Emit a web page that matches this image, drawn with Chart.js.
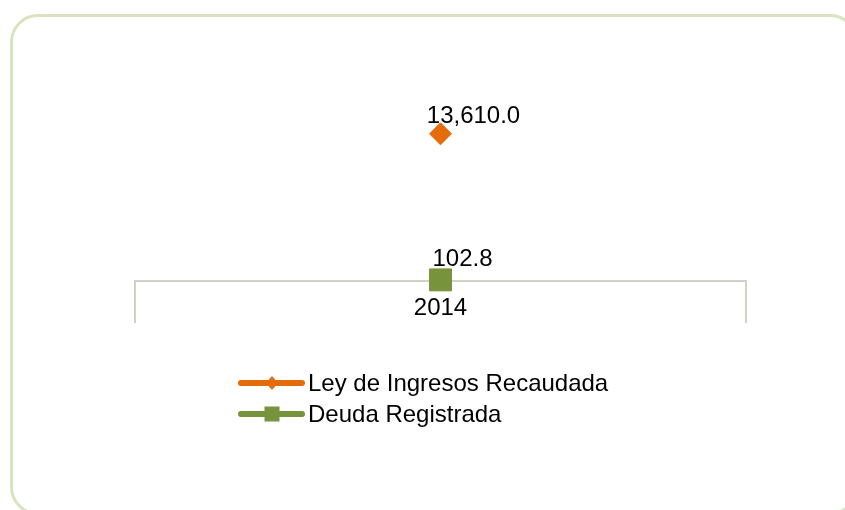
<!DOCTYPE html>
<html>
<head>
<meta charset="utf-8">
<script src="https://cdn.jsdelivr.net/npm/chart.js@4/dist/chart.umd.min.js"></script>
<style>
  html, body { margin: 0; padding: 0; background: #fff; overflow: hidden; }
  #wrap { position: relative; width: 845px; height: 510px; overflow: hidden; }
  #frame {
    position: absolute; left: 10px; top: 14px; width: 842px; height: 495px;
    border: 3px solid #d7e4bd; border-radius: 28px;
  }
  canvas { position: absolute; left: 0; top: 0; }
</style>
</head>
<body>
<div id="wrap">
  <div id="frame"></div>
  <canvas id="chart" width="845" height="510"></canvas>
</div>
<script>
// Data
const categories = ['2014'];
const seriesNames = ['Ley de Ingresos Recaudada', 'Deuda Registrada'];
const recaudada = [13610.0];
const deuda = [102.8];
const seriesColors = ['#e46c0a', '#77933c'];

const FONT = '"Liberation Sans", Arial, sans-serif';
const FONT_SIZE = 24;

function fmt(n) {
  return n.toLocaleString('en-US', { minimumFractionDigits: 1, maximumFractionDigits: 1 });
}

// Value labels next to each point (offsets from the point, in px)
const labelOffsets = [{ dx: 33, dy: -17 }, { dx: 22, dy: -21 }];

const valueLabels = {
  id: 'valueLabels',
  afterDatasetsDraw(chart) {
    const ctx = chart.ctx;
    ctx.save();
    ctx.font = FONT_SIZE + 'px ' + FONT;
    ctx.fillStyle = '#000';
    ctx.textAlign = 'center';
    ctx.textBaseline = 'middle';
    chart.data.datasets.forEach((ds, i) => {
      const meta = chart.getDatasetMeta(i);
      meta.data.forEach((pt, j) => {
        const off = labelOffsets[i];
        ctx.fillText(fmt(ds.data[j]), pt.x + off.dx, pt.y + off.dy);
      });
    });
    // category labels, sitting between the long tick marks
    const xs = chart.scales.x;
    chart.data.labels.forEach((lab, j) => {
      ctx.fillText(lab, xs.getPixelForTick(j), xs.top + 27);
    });
    ctx.restore();
  }
};

// Legend: line sample with marker, stacked vertically
const lineLegend = {
  id: 'lineLegend',
  afterDraw(chart) {
    const ctx = chart.ctx;
    const x0 = 241, x1 = 302, mx = 272, tx = 308;
    ctx.save();
    chart.data.datasets.forEach((ds, i) => {
      const y = 383 + i * 31;
      ctx.strokeStyle = ds.borderColor;
      ctx.lineWidth = 6;
      ctx.lineCap = 'round';
      ctx.beginPath();
      ctx.moveTo(x0, y);
      ctx.lineTo(x1, y);
      ctx.stroke();
      ctx.fillStyle = ds.backgroundColor;
      ctx.beginPath();
      if (ds.pointStyle === 'rectRot') {
        ctx.moveTo(mx - 6, y);
        ctx.lineTo(mx, y - 7);
        ctx.lineTo(mx + 6, y);
        ctx.lineTo(mx, y + 7);
        ctx.closePath();
      } else {
        ctx.rect(mx - 7.5, y - 7.5, 15, 15);
      }
      ctx.fill();
      ctx.fillStyle = '#000';
      ctx.font = FONT_SIZE + 'px ' + FONT;
      ctx.textAlign = 'left';
      ctx.textBaseline = 'middle';
      ctx.fillText(ds.label, tx, y + 1);
    });
    ctx.restore();
  }
};

new Chart(document.getElementById('chart'), {
  type: 'line',
  data: {
    labels: categories,
    datasets: [
      {
        label: seriesNames[0],
        data: recaudada,
        borderColor: seriesColors[0],
        backgroundColor: seriesColors[0],
        pointStyle: 'rectRot',
        pointRadius: 11,
        pointBorderWidth: 1,
        borderWidth: 5,
        clip: false,
      },
      {
        label: seriesNames[1],
        data: deuda,
        borderColor: seriesColors[1],
        backgroundColor: seriesColors[1],
        pointStyle: 'rect',
        pointRadius: 15.5,
        pointBorderWidth: 1,
        borderWidth: 5,
        clip: false,
      },
    ],
  },
  options: {
    responsive: false,
    animation: false,
    layout: { padding: { left: 135, right: 99, top: 108, bottom: 187 } },
    plugins: {
      legend: { display: false },
      tooltip: { enabled: false },
    },
    scales: {
      x: {
        offset: true,
        grid: { offset: true, drawOnChartArea: false, tickLength: 42, color: '#d0d2c4', lineWidth: 2 },
        border: { color: '#d0d2c4', width: 2 },
        ticks: { display: false },
      },
      y: { display: false, min: 0, max: 16000 },
    },
  },
  plugins: [valueLabels, lineLegend],
});
</script>
</body>
</html>
